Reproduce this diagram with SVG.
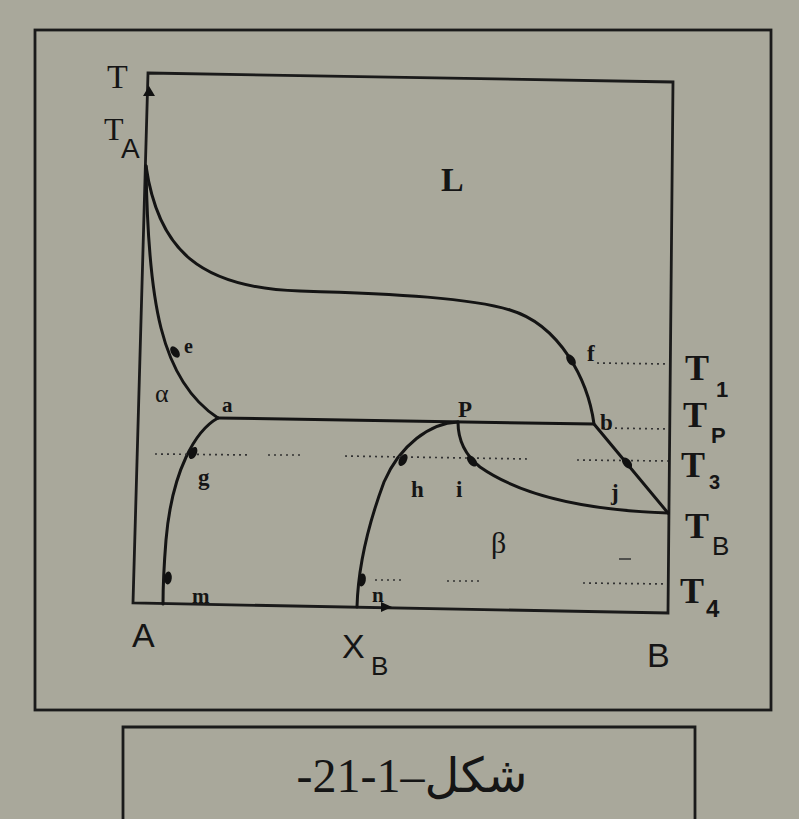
<svg xmlns="http://www.w3.org/2000/svg" width="799" height="819" viewBox="0 0 799 819">
<defs>
<style>
.frame{fill:none;stroke:#1a1a1a;stroke-width:2.8}
.ax{fill:none;stroke:#1a1a1a;stroke-width:2.8}
.cv{fill:none;stroke:#141414;stroke-width:3;stroke-linecap:round}
.dot{fill:none;stroke:#333;stroke-width:1.7;stroke-dasharray:2 4}
.mk{fill:#111}
.lbl{font-family:"Liberation Serif","Times New Roman",serif;fill:#151515}
.big{font-family:"Liberation Serif","Times New Roman",serif;fill:#151515;font-weight:bold}
.sans{font-family:"Liberation Sans",Arial,sans-serif;fill:#151515}
</style>
</defs>
<rect width="799" height="819" fill="#a9a89b"/>
<g id="outer-frame">
<rect class="frame" x="35" y="30" width="736" height="680"/>
</g>
<g id="caption">
<path class="frame" d="M123,819 L123,727 L695,727 L695,819"/>
<text x="412" y="792" text-anchor="middle" font-size="48" font-family="Liberation Serif, DejaVu Sans, serif" fill="#151515">-21-1–شکل</text>
</g>
<g id="axes">
<path class="ax" d="M148,73 L673,82 L668,613 L133,603 Z"/>
<polygon class="mk" points="149,86 143,96 155,96"/>
<polygon class="mk" points="392,607 381,602 381,612"/>
</g>
<g id="connectors">
<path id="liquidus" class="cv" d="M146,166 C158,250 200,288 300,291 C400,294 470,298 510,310 C560,325 588,380 594,424 L668,513"/>
<path id="alpha-solidus" class="cv" d="M146,166 C148,300 160,380 218,418"/>
<path id="peritectic" class="cv" d="M218,418 L594,424"/>
<path id="alpha-solvus" class="cv" d="M218,418 C196,430 172,470 166,540 C164,565 163,585 163,604"/>
<path id="beta-solvus" class="cv" d="M458,422 C430,423 400,445 384,482 C368,525 358,570 357,607"/>
<path id="beta-solidus" class="cv" d="M458,422 C458,440 465,455 480,467 C520,495 580,510 668,513"/>
<line class="dot" x1="597" y1="363" x2="668" y2="364"/>
<line class="dot" x1="603" y1="428" x2="668" y2="429"/>
<line class="dot" x1="155" y1="454" x2="250" y2="455"/>
<line class="dot" x1="268" y1="455" x2="300" y2="455"/>
<line class="dot" x1="345" y1="456" x2="527" y2="459"/>
<line class="dot" x1="577" y1="460" x2="668" y2="461"/>
<line class="dot" x1="375" y1="580" x2="402" y2="580"/>
<line class="dot" x1="447" y1="581" x2="480" y2="581"/>
<line class="dot" x1="583" y1="583" x2="666" y2="584"/>
<line x1="619" y1="559" x2="631" y2="559" stroke="#333" stroke-width="1.5"/>
</g>
<g id="markers">
<ellipse class="mk" cx="175" cy="352" rx="3.8" ry="6.5" transform="rotate(-35 175 352)"/>
<ellipse class="mk" cx="193" cy="453" rx="3.8" ry="6.5" transform="rotate(25 193 453)"/>
<ellipse class="mk" cx="403" cy="460" rx="3.8" ry="6.5" transform="rotate(30 403 460)"/>
<ellipse class="mk" cx="472" cy="461" rx="3.8" ry="6.5" transform="rotate(-40 472 461)"/>
<ellipse class="mk" cx="571" cy="360" rx="3.8" ry="6.5" transform="rotate(-35 571 360)"/>
<ellipse class="mk" cx="627" cy="463" rx="3.8" ry="6.5" transform="rotate(-40 627 463)"/>
<ellipse class="mk" cx="168" cy="578" rx="3.8" ry="6.5" transform="rotate(5 168 578)"/>
<ellipse class="mk" cx="362" cy="580" rx="3.8" ry="6.5" transform="rotate(10 362 580)"/>
</g>
<g id="label-T"><text class="lbl" x="107" y="88" font-size="34">T</text></g>
<g id="label-TA"><text class="lbl" x="104" y="140" font-size="32">T</text><text class="sans" x="121" y="158" font-size="28">A</text></g>
<g id="label-L"><text class="big" x="441" y="191" font-size="34">L</text></g>
<g id="label-e"><text class="big" x="184" y="353" font-size="20">e</text></g>
<g id="label-alpha"><text class="lbl" x="155" y="402" font-size="26">α</text></g>
<g id="label-a"><text class="big" x="222" y="412" font-size="21">a</text></g>
<g id="label-P"><text class="big" x="458" y="417" font-size="23">P</text></g>
<g id="label-g"><text class="big" x="198" y="485" font-size="23">g</text></g>
<g id="label-h"><text class="big" x="411" y="497" font-size="23">h</text></g>
<g id="label-i"><text class="big" x="456" y="497" font-size="23">i</text></g>
<g id="label-f"><text class="big" x="587" y="361" font-size="23">f</text></g>
<g id="label-b"><text class="big" x="600" y="430" font-size="23">b</text></g>
<g id="label-j"><text class="big" x="611" y="500" font-size="23">j</text></g>
<g id="label-m"><text class="big" x="192" y="603" font-size="21">m</text></g>
<g id="label-n"><text class="big" x="372" y="602" font-size="21">n</text></g>
<g id="label-beta"><text class="lbl" x="491" y="553" font-size="30">β</text></g>
<g id="label-T1"><text class="big" x="685" y="380" font-size="36">T</text><text class="sans" x="716" y="397" font-size="22" font-weight="bold">1</text></g>
<g id="label-TP"><text class="big" x="683" y="427" font-size="36">T</text><text class="sans" x="711" y="443" font-size="22" font-weight="bold">P</text></g>
<g id="label-T3"><text class="big" x="681" y="477" font-size="36">T</text><text class="sans" x="709" y="489" font-size="20" font-weight="bold">3</text></g>
<g id="label-TB"><text class="big" x="685" y="538" font-size="36">T</text><text class="sans" x="712" y="555" font-size="26">B</text></g>
<g id="label-T4"><text class="big" x="680" y="603" font-size="36">T</text><text class="sans" x="706" y="617" font-size="24" font-weight="bold">4</text></g>
<g id="label-A"><text class="sans" x="132" y="647" font-size="34">A</text></g>
<g id="label-XB"><text class="sans" x="342" y="658" font-size="34">X</text><text class="sans" x="371" y="675" font-size="26">B</text></g>
<g id="label-B"><text class="sans" x="647" y="667" font-size="34">B</text></g>
</svg>
